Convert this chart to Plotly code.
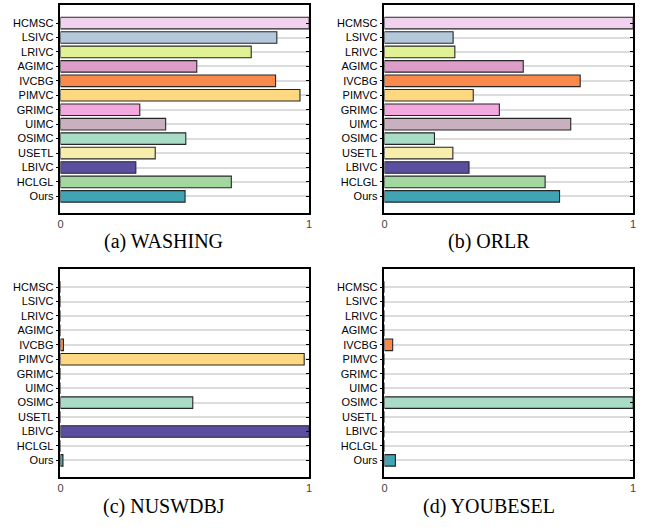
import plotly.graph_objects as go

# Methods, listed from bottom to top of each panel
methods = ["Ours", "HCLGL", "LBIVC", "USETL", "OSIMC", "UIMC", "GRIMC",
           "PIMVC", "IVCBG", "AGIMC", "LRIVC", "LSIVC", "HCMSC"]

colors = ["#40a4b4", "#a2d8a0", "#5a4e9e", "#f6eeaa", "#a8dcc6", "#c8b0be",
          "#f2a8dc", "#fed880", "#f98a4c", "#dc9ec8", "#e0f294", "#b4c8dc",
          "#f0d2ee"]

# Normalised scores per dataset (same order as methods)
washing = [0.501, 0.687, 0.303, 0.381, 0.504, 0.423, 0.319,
           0.963, 0.865, 0.548, 0.767, 0.870, 1.0]
orlr = [0.704, 0.646, 0.340, 0.275, 0.201, 0.749, 0.462,
        0.357, 0.787, 0.558, 0.283, 0.276, 1.0]
nuswdbj = [0.010, 0.0, 1.0, 0.0, 0.532, 0.0, 0.0,
           0.980, 0.012, 0.0, 0.0, 0.0, 0.0]
youbesel = [0.044, 0.0, 0.0, 0.0, 1.0, 0.0, 0.0,
            0.0, 0.033, 0.0, 0.0, 0.0, 0.0]

captions = ["(a) WASHING", "(b) ORLR", "(c) NUSWDBJ", "(d) YOUBESEL"]
datasets = [washing, orlr, nuswdbj, youbesel]

W, H = 654, 529
# plot-area boxes in pixels: (left, right, top, bottom)
boxes = [(58, 309, 5, 213), (385, 636, 5, 213),
         (58, 309, 269, 477), (385, 636, 269, 477)]
caption_pos = [(162, 242), (490, 242), (162, 506), (490, 506)]

positions = list(range(len(methods)))
yrange = [-1.15, 12 + 1.25]

fig = go.Figure()
layout = dict(width=W, height=H, margin=dict(l=0, r=0, t=0, b=0),
              paper_bgcolor="white", plot_bgcolor="white", showlegend=False,
              bargap=0.2)

for i, (vals, box) in enumerate(zip(datasets, boxes)):
    n = i + 1
    xa = "x" if n == 1 else f"x{n}"
    ya = "y" if n == 1 else f"y{n}"
    fig.add_trace(go.Bar(
        x=vals, y=positions, orientation="h", xaxis=xa, yaxis=ya,
        marker=dict(color=colors, line=dict(color="#262626", width=1.1)),
        width=0.8, hoverinfo="skip"))
    # right-hand tick marks drawn by an overlaid axis
    ra = f"y{n + 4}"
    fig.add_trace(go.Scatter(x=[], y=[], xaxis=xa, yaxis=ra,
                             mode="markers", hoverinfo="skip"))

    l, r, t, b = box
    xdom = [l / W, r / W]
    ydom = [1 - b / H, 1 - t / H]
    xkey = "xaxis" if n == 1 else f"xaxis{n}"
    ykey = "yaxis" if n == 1 else f"yaxis{n}"
    layout[xkey] = dict(domain=xdom, anchor=ya, range=[0, 1],
                        tickvals=[0, 1], ticktext=["0", "1"], ticks="",
                        showgrid=False, zeroline=False, showline=True,
                        mirror=True, linecolor="black", linewidth=1.6,
                        tickfont=dict(family="Liberation Sans", size=11,
                                      color="#444"))
    layout[ykey] = dict(domain=ydom, anchor=xa, range=yrange,
                        tickvals=positions, ticktext=methods,
                        ticks="outside", ticklen=3, tickwidth=1.3,
                        tickcolor="black", showgrid=True,
                        gridcolor="#dcdcdc", gridwidth=1.5, zeroline=False,
                        showline=True, mirror=True, linecolor="black",
                        linewidth=1.6,
                        tickfont=dict(family="Liberation Sans", size=11,
                                      color="#000"))
    layout[f"yaxis{n + 4}"] = dict(overlaying=ya, side="right", anchor=xa,
                                   range=yrange, tickvals=positions,
                                   showticklabels=False, ticks="inside",
                                   ticklen=3, tickwidth=1.3,
                                   tickcolor="black", showgrid=False,
                                   zeroline=False, showline=False)

fig.update_layout(**layout)

for text, (cx, cy) in zip(captions, caption_pos):
    fig.add_annotation(text=text, x=cx / W, y=1 - cy / H, xref="paper",
                       yref="paper", showarrow=False, xanchor="center",
                       yanchor="middle",
                       font=dict(family="Liberation Serif", size=20,
                                 color="black"))

fig.write_html("out.html")
